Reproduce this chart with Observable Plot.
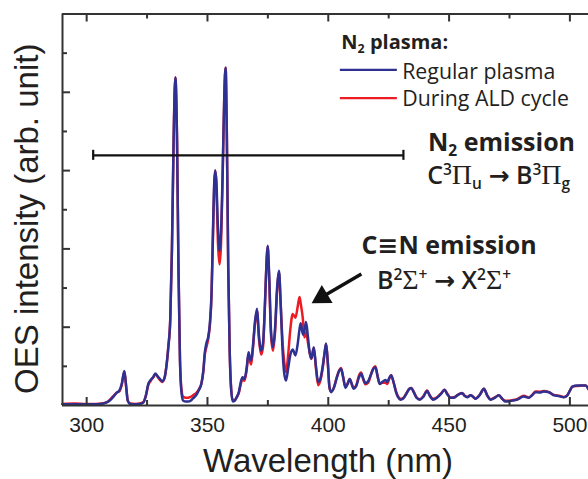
<!DOCTYPE html>
<html>
<head>
<meta charset="utf-8">
<script src="https://cdn.jsdelivr.net/npm/d3@7"></script>
<script src="https://cdn.jsdelivr.net/npm/@observablehq/plot@0.6"></script>
<style>
  html, body { margin: 0; padding: 0; background: #fff; }
  #chart { width: 588px; height: 479px; overflow: hidden; }
</style>
</head>
<body>
<div id="chart"></div>
<script>
// ---- Data ----
const wavelength = [290,295,300,304,307,309,311,312.5,313.5,314.5,315.6,316.4,317,318,320,322,323.5,324.5,325.5,326.6,327.6,328.4,329.3,330.2,331.2,332.2,333,333.8,334.6,335.3,336,336.7,337.4,338,338.6,339.3,340,341,342,343,344,345.5,346.5,347.5,348.3,348.9,349.6,350.3,351,351.7,352.3,352.8,353.2,353.7,354.3,355,355.6,356.3,357,357.5,358,358.6,359.2,359.8,360.5,361.3,362,363,363.8,364.5,365.3,366.2,367,367.6,368.1,368.8,369.6,370.5,371.3,372.2,373,373.8,374.4,374.9,375.5,376.3,377.1,378,378.8,379.6,380.3,381,381.8,382.5,383.4,384.3,385.3,386.4,387.4,388.1,388.6,389.5,390.1,390.8,391.6,392.3,393,394,394.9,395.8,396.8,397.8,398.6,399.1,399.8,400.5,401.2,402.3,403.5,404.5,405.3,406.2,407.1,408,408.9,409.7,410.5,411.6,412.6,413.6,414.5,415.4,416.5,417.6,418.6,419.5,420.4,421.3,422.3,423.7,424.4,425.2,426,427,428,429,429.9,431,432.5,433.5,434.3,435.3,436.5,437.9,439.3,440.9,442,443.4,445,446.7,448.1,449.3,450.6,452,453.8,455.4,456.5,457.5,458.9,460,460.9,462.8,464.4,465.8,467.2,469,470.6,472,473.4,475.8,478.2,480.9,483,484.5,485.8,487.5,489.2,491.3,493.4,495.5,497.5,498.9,500,501,503,505,506.5,507.7];
const regularPlasma = [0.03,0.03,0.03,0.03,0.05,0.10,0.22,0.33,0.38,0.55,0.88,0.45,0.12,0.04,0.03,0.04,0.08,0.25,0.55,0.66,0.73,0.82,0.75,0.69,0.62,0.70,1.0,1.5,2.2,4.0,6.8,8.38,6.8,3.5,1.2,0.30,0.12,0.10,0.10,0.12,0.18,0.28,0.40,0.56,0.90,1.35,1.60,1.75,2.10,2.90,4.50,5.70,6.00,5.70,4.60,3.95,4.40,6.00,8.00,8.63,7.00,3.50,1.40,0.40,0.10,0.12,0.20,0.35,0.60,0.72,0.68,0.95,1.36,1.20,1.15,1.50,2.10,2.47,1.80,1.40,1.60,2.60,3.60,4.08,3.40,1.90,1.49,2.00,3.00,3.44,2.60,1.50,0.80,0.64,0.95,1.30,1.43,1.28,1.60,1.95,2.10,1.81,1.90,2.13,1.74,1.35,1.20,1.49,1.00,0.60,0.70,1.05,1.40,1.58,1.10,0.47,0.34,0.45,0.70,0.88,0.94,0.70,0.45,0.55,0.68,0.55,0.43,0.50,0.70,0.81,0.68,0.57,0.62,0.78,0.93,0.98,0.75,0.55,0.60,0.65,0.60,0.70,0.77,0.60,0.35,0.20,0.15,0.18,0.32,0.42,0.45,0.35,0.20,0.15,0.22,0.37,0.25,0.15,0.20,0.30,0.40,0.28,0.20,0.20,0.28,0.31,0.24,0.21,0.26,0.22,0.17,0.28,0.43,0.25,0.15,0.20,0.26,0.17,0.10,0.12,0.15,0.23,0.20,0.27,0.34,0.33,0.36,0.34,0.26,0.24,0.21,0.26,0.38,0.48,0.51,0.51,0.51,0.42];
const duringALD = [0.04,0.05,0.04,0.04,0.06,0.11,0.24,0.33,0.36,0.52,0.86,0.45,0.13,0.05,0.04,0.05,0.09,0.25,0.52,0.64,0.72,0.80,0.74,0.66,0.60,0.70,1.0,1.5,2.2,4.0,6.8,8.38,6.8,3.5,1.25,0.38,0.22,0.20,0.20,0.22,0.26,0.33,0.42,0.56,0.88,1.30,1.50,1.70,2.05,2.85,4.40,5.60,6.00,5.60,4.20,3.60,4.10,5.90,8.00,8.63,7.00,3.50,1.40,0.45,0.15,0.14,0.20,0.32,0.55,0.68,0.63,0.90,1.30,1.12,1.05,1.45,2.05,2.42,1.70,1.30,1.50,2.60,3.60,4.05,3.30,1.80,1.40,1.90,2.90,3.40,2.60,1.70,1.10,0.85,1.30,1.95,2.34,2.24,2.55,2.77,2.60,2.20,1.74,1.87,1.60,1.35,1.19,1.46,0.95,0.52,0.65,1.00,1.40,1.58,1.10,0.45,0.36,0.45,0.72,0.90,0.96,0.72,0.48,0.56,0.68,0.55,0.45,0.52,0.75,0.84,0.66,0.54,0.58,0.78,0.95,1.00,0.75,0.56,0.58,0.58,0.55,0.68,0.77,0.60,0.37,0.22,0.17,0.19,0.33,0.43,0.45,0.36,0.21,0.16,0.23,0.38,0.26,0.17,0.21,0.31,0.40,0.30,0.20,0.21,0.28,0.32,0.25,0.22,0.26,0.22,0.18,0.28,0.43,0.26,0.16,0.21,0.26,0.17,0.12,0.13,0.16,0.25,0.20,0.28,0.36,0.35,0.37,0.34,0.27,0.25,0.22,0.26,0.38,0.48,0.50,0.51,0.51,0.42];

const xMajorTicks = [300, 350, 400, 450, 500];
const xMinorTicks = [325, 375, 425, 475];
const yMajorTicks = [2, 4, 6, 8];
const yMinorTicks = [1, 3, 5, 7, 9];

const seriesNames = ["Regular plasma", "During ALD cycle"];
const seriesColors = ["#2e3192", "#ed1c24"];

// annotation anchors (data coordinates; y is text baseline)
const legendTitle = {x: 405.4, y: 9.11, text: "N_2 plasma:"};
const legendItems = [
  {x1: 405.0, x2: 428.6, y: 8.575, tx: 430.6, ty: 8.345, name: "Regular plasma", color: "#2e3192"},
  {x1: 405.0, x2: 428.6, y: 7.85,  tx: 430.6, ty: 7.64,  name: "During ALD cycle", color: "#ed1c24"}
];
const boldNotes = [
  {x: 471.7, y: 6.51, text: "N_2 emission"},
  {x: 450.0, y: 3.875, text: "C≡N emission"}
];
const plainNotes = [
  {x: 470.5, y: 5.66, text: "C^3Π_u → B^3Π_g"},
  {x: 447.9, y: 2.98, text: "B^2Σ^+ → X^2Σ^+"}
];
const rangeBar = {x1: 302.7, x2: 431.1, y: 6.39};
const arrowShaft = {x1: 413.7, y1: 3.36, x2: 397.4, y2: 2.77};
const arrowHead = {x: 397.4, y: 2.77};

// ---- scales ----
const xDomain = [290, 507.7];
const yDomain = [0, 10];
const W = 588, H = 479, mL = 62, mR = 0, mT = 13.5, mB = 74;
const nmPerPx = (xDomain[1] - xDomain[0]) / (W - mL - mR);
const unitPerPx = (yDomain[1] - yDomain[0]) / (H - mT - mB);

const rows = [];
wavelength.forEach((w, i) => rows.push({wl: w, v: duringALD[i], s: seriesNames[1]}));
wavelength.forEach((w, i) => rows.push({wl: w, v: regularPlasma[i], s: seriesNames[0]}));

const ink = "#231f20";
const frameColor = "#333";
const annFont = "'Open Sans', 'Noto Sans', sans-serif";

const plot = Plot.plot({
  width: W, height: H,
  marginLeft: mL, marginRight: mR, marginTop: mT, marginBottom: mB,
  style: {fontFamily: "'Liberation Sans', Arial, sans-serif", fontSize: "21px", color: ink, background: "#fff", overflow: "visible"},
  x: {domain: xDomain, ticks: xMajorTicks, tickSize: 0, tickPadding: 12, tickFormat: d => String(d), label: null},
  y: {domain: yDomain, axis: null},
  color: {domain: seriesNames, range: seriesColors},
  marks: [
    Plot.line(rows, {x: "wl", y: "v", z: "s", stroke: "s", strokeWidth: 2.5, curve: "monotone-x"}),
    // frame
    Plot.ruleY([yDomain[0]], {stroke: frameColor, strokeWidth: 2}),
    Plot.ruleY([yDomain[1]], {stroke: frameColor, strokeWidth: 2}),
    Plot.ruleX([xDomain[0]], {stroke: frameColor, strokeWidth: 2}),
    // inward ticks
    Plot.ruleX(xMajorTicks, {y1: yDomain[0], y2: yDomain[0] + 8 * unitPerPx, stroke: frameColor, strokeWidth: 2}),
    Plot.ruleX(xMinorTicks, {y1: yDomain[0], y2: yDomain[0] + 5 * unitPerPx, stroke: frameColor, strokeWidth: 2}),
    Plot.ruleX(xMajorTicks, {y1: yDomain[1], y2: yDomain[1] - 8 * unitPerPx, stroke: frameColor, strokeWidth: 2}),
    Plot.ruleX(xMinorTicks, {y1: yDomain[1], y2: yDomain[1] - 5 * unitPerPx, stroke: frameColor, strokeWidth: 2}),
    Plot.ruleY(yMajorTicks, {x1: xDomain[0], x2: xDomain[0] + 8 * nmPerPx, stroke: frameColor, strokeWidth: 2}),
    Plot.ruleY(yMinorTicks, {x1: xDomain[0], x2: xDomain[0] + 5 * nmPerPx, stroke: frameColor, strokeWidth: 2}),
    // axis titles
    Plot.text(["Wavelength (nm)"], {text: d => d, frameAnchor: "bottom", textAnchor: "middle", lineAnchor: "bottom", dy: 66, dx: 2.5, fontSize: 33, fill: ink}),
    Plot.text(["OES intensity (arb. unit)"], {text: d => d, frameAnchor: "left", textAnchor: "middle", rotate: -90, lineAnchor: "bottom", dx: -25, dy: 9, fontSize: 33, fill: ink}),
    // N2 emission range bar
    Plot.ruleY([rangeBar], {y: "y", x1: "x1", x2: "x2", stroke: "#111", strokeWidth: 2.2}),
    Plot.ruleX([rangeBar.x1, rangeBar.x2], {x: d => d, y1: rangeBar.y - 5 * unitPerPx, y2: rangeBar.y + 5 * unitPerPx, stroke: "#111", strokeWidth: 2.2}),
    // legend
    Plot.text([legendTitle], {x: "x", y: "y", text: "text", textAnchor: "start", lineAnchor: "bottom", fontSize: 20, fontWeight: "bold", fontFamily: annFont, fill: ink}),
    Plot.ruleY(legendItems, {y: "y", x1: "x1", x2: "x2", stroke: "color", strokeWidth: 2.2}),
    Plot.text(legendItems, {x: "tx", y: "ty", text: "name", textAnchor: "start", lineAnchor: "bottom", fontSize: 21.3, fontFamily: annFont, fill: ink}),
    // annotations
    Plot.text(boldNotes, {x: "x", y: "y", text: "text", textAnchor: "middle", lineAnchor: "bottom", fontSize: 25, fontWeight: "bold", fontFamily: annFont, fill: ink}),
    Plot.text(plainNotes, {x: "x", y: "y", text: "text", textAnchor: "middle", lineAnchor: "bottom", fontSize: 25, fontWeight: 600, fontFamily: annFont, fill: ink}),
    // arrow
    Plot.link([arrowShaft], {x1: "x1", y1: "y1", x2: "x2", y2: "y2", stroke: "#111", strokeWidth: 3.5}),
    Plot.dot([arrowHead], {x: "x", y: "y", symbol: "triangle", r: 7.8, fill: "#111", stroke: "none", rotate: 239})
  ]
});

document.getElementById("chart").appendChild(plot);

// rich text: ^x superscript, _x subscript, Greek in serif
function enrich(root) {
  const NS = "http://www.w3.org/2000/svg";
  root.querySelectorAll("text").forEach(t => {
    const s = t.textContent;
    if (!/[\^_ΠΣ→≡]/.test(s)) return;
    const fs = parseFloat(getComputedStyle(t).fontSize) || 20;
    while (t.firstChild) t.removeChild(t.firstChild);
    let shift = 0, buf = "";
    function add(txt, o) {
      const ts = document.createElementNS(NS, "tspan");
      const target = o.shift || 0;
      if (target !== shift) { ts.setAttribute("dy", (target - shift).toFixed(2)); shift = target; }
      if (o.size) ts.setAttribute("font-size", o.size.toFixed(2));
      if (o.family) ts.setAttribute("font-family", o.family);
      if (o.weight) ts.setAttribute("font-weight", o.weight);
      ts.textContent = txt;
      t.appendChild(ts);
    }
    const flush = () => { if (buf) { add(buf, {}); buf = ""; } };
    for (let i = 0; i < s.length; i++) {
      const c = s[i];
      if ((c === "^" || c === "_") && i + 1 < s.length) {
        flush();
        const ch = s[++i];
        add(ch, {shift: c === "^" ? -0.36 * fs : 0.2 * fs, size: 0.62 * fs});
      } else if (c === "Π" || c === "Σ") {
        flush(); add(c, {family: "'Liberation Serif', 'DejaVu Serif', serif", weight: "normal", size: 1.12 * fs});
      } else if (c === "→" || c === "≡") {
        flush(); add(c, {family: "'DejaVu Sans', sans-serif", weight: "bold"});
      } else buf += c;
    }
    flush();
  });
}
enrich(plot);
</script>
</body>
</html>
